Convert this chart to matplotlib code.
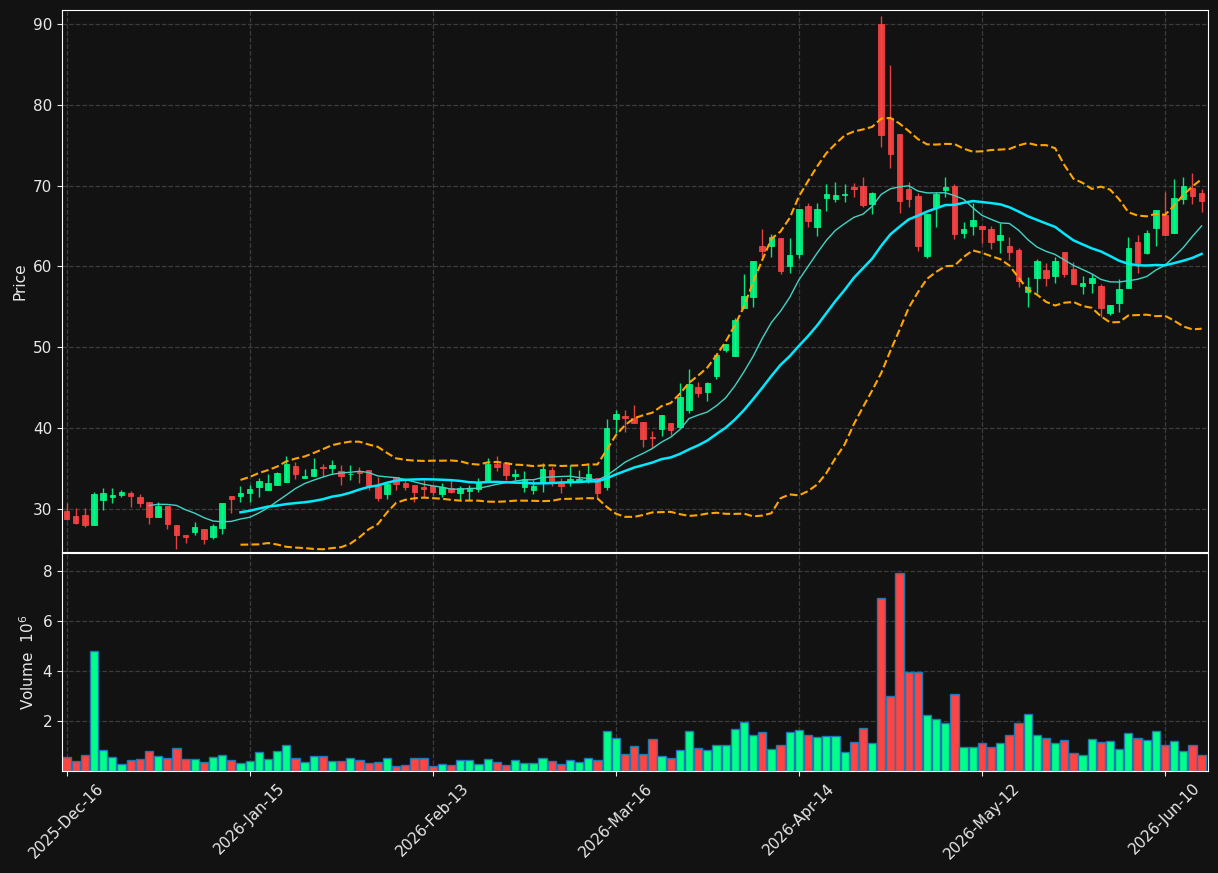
import matplotlib
matplotlib.use("Agg")
import matplotlib.pyplot as plt
from matplotlib.patches import Rectangle
import numpy as np
import pandas as pd

# ---------------------------------------------------------------------------
# data (one row per trading day)
# ---------------------------------------------------------------------------
opens = [29.75, 29.1, 29.3, 28.0, 31.1, 31.5, 31.8, 32.0, 31.5, 30.9,
         29.05, 30.4, 28.0, 26.8, 27.15, 27.5, 26.6, 27.65, 31.6, 31.6,
         32.0, 32.7, 32.35, 33.0, 33.3, 35.3, 33.84, 34.1, 35.2, 35.1,
         34.7, 34.3, 34.6, 34.8, 32.85, 31.9, 33.96, 33.25, 32.97, 32.7,
         32.85, 31.86, 32.56, 32.0, 32.23, 32.44, 33.5, 35.57, 35.65, 34.08,
         32.76, 32.35, 33.38, 34.8, 33.18, 33.43, 33.5, 33.5, 33.9, 32.76,
         41.13, 41.5, 41.26, 40.76, 38.9, 39.9, 40.64, 40.1, 42.25, 45.1,
         44.5, 46.5, 49.67, 48.97, 54.83, 56.27, 62.54, 62.57, 63.49, 60.1,
         61.55, 67.49, 64.93, 68.5, 68.35, 68.88, 69.84, 69.96, 67.73, 90.0,
         78.33, 76.4, 69.59, 68.72, 61.3, 67.33, 69.47, 69.96, 64.18, 65.01,
         65.0, 64.64, 63.28, 62.54, 62.04, 56.9, 58.62, 59.57, 58.87, 61.76,
         59.7, 57.62, 57.92, 57.59, 54.28, 55.45, 57.38, 63.0, 61.7, 64.8,
         66.37, 64.1, 68.32, 69.68, 69.13]
highs = [30.8, 30.1, 30.1, 32.1, 32.6, 32.6, 32.4, 32.2, 31.9, 30.9,
         30.9, 30.4, 28.0, 26.8, 28.4, 27.5, 28.1, 30.74, 31.6, 32.85,
         33.0, 33.8, 34.3, 34.6, 36.6, 35.8, 34.95, 36.3, 35.6, 36.1,
         35.4, 35.4, 35.2, 34.8, 34.0, 33.1, 33.96, 33.6, 32.97, 33.6,
         32.85, 33.2, 33.6, 32.85, 32.97, 33.9, 36.27, 36.56, 35.65, 34.9,
         34.7, 33.6, 35.65, 35.2, 33.8, 35.44, 34.8, 35.65, 33.9, 41.2,
         42.3, 42.3, 42.87, 40.76, 39.6, 41.63, 40.7, 45.55, 47.28, 45.75,
         45.75, 49.05, 50.4, 53.6, 59.07, 60.7, 64.6, 64.0, 63.49, 63.49,
         67.1, 67.9, 67.9, 70.2, 70.5, 70.2, 70.37, 71.0, 69.25, 91.0,
         84.9, 76.4, 70.5, 69.13, 66.5, 69.25, 71.04, 70.2, 65.46, 67.8,
         65.0, 65.0, 65.42, 63.6, 62.25, 58.74, 60.9, 60.4, 61.14, 61.76,
         60.6, 58.86, 59.07, 57.84, 55.24, 58.5, 63.6, 63.9, 64.5, 67.0,
         69.18, 70.8, 71.04, 71.6, 69.55]
lows = [28.6, 28.1, 27.8, 28.0, 29.9, 30.8, 31.5, 30.3, 30.3, 28.1,
        29.0, 27.5, 25.1, 25.8, 26.75, 25.75, 26.3, 26.9, 29.5, 30.9,
        30.9, 31.5, 32.35, 33.0, 33.3, 33.7, 33.84, 34.1, 34.0, 34.4,
        33.0, 33.6, 33.2, 32.35, 31.0, 31.3, 32.4, 32.35, 30.9, 31.5,
        31.7, 31.5, 32.0, 31.1, 31.1, 32.14, 33.38, 34.7, 33.6, 33.6,
        32.14, 31.86, 32.14, 32.85, 32.0, 32.85, 33.38, 33.18, 31.3, 32.35,
        39.37, 39.56, 40.6, 37.7, 37.6, 39.07, 39.15, 40.1, 41.9, 43.9,
        43.4, 46.05, 49.46, 48.97, 54.83, 55.0, 61.2, 61.2, 59.04, 59.24,
        61.0, 64.85, 63.78, 66.8, 68.0, 68.0, 68.64, 67.33, 66.5, 74.75,
        72.15, 66.58, 67.33, 61.96, 61.0, 64.93, 68.56, 63.37, 63.56, 63.9,
        62.95, 62.12, 61.63, 60.8, 57.5, 54.95, 56.7, 57.6, 57.9, 58.66,
        57.84, 56.56, 56.76, 53.79, 54.0, 54.4, 57.38, 59.24, 61.5, 62.54,
        63.9, 64.1, 67.73, 67.73, 66.7]
closes = [28.76, 28.3, 28.0, 31.9, 32.0, 31.8, 32.1, 31.65, 30.8, 29.05,
          30.4, 28.1, 26.8, 26.5, 27.8, 26.3, 27.9, 30.74, 31.24, 32.0,
          32.5, 33.5, 33.2, 34.45, 35.6, 34.3, 34.08, 34.95, 35.1, 35.4,
          34.1, 34.37, 34.5, 32.85, 31.4, 33.1, 33.13, 32.72, 32.1, 32.5,
          32.1, 32.76, 32.14, 32.56, 32.44, 33.25, 35.57, 35.23, 34.2, 34.4,
          33.67, 32.85, 34.9, 33.38, 32.85, 33.7, 33.7, 34.4, 31.94, 40.0,
          41.75, 41.3, 40.68, 38.7, 38.78, 41.63, 39.77, 43.86, 45.46, 44.35,
          45.55, 49.05, 50.4, 53.38, 56.35, 60.7, 61.92, 63.6, 59.48, 61.42,
          67.08, 65.6, 67.08, 68.97, 68.85, 69.0, 69.59, 67.6, 69.13, 76.27,
          73.92, 68.04, 68.35, 62.54, 66.5, 68.97, 69.84, 64.02, 64.64, 65.75,
          64.6, 63.07, 63.9, 61.83, 58.24, 57.4, 60.68, 58.62, 60.68, 59.04,
          57.84, 57.96, 58.62, 54.9, 55.24, 57.22, 62.25, 60.4, 64.1, 66.99,
          63.9, 68.44, 69.96, 68.72, 68.1]
# volume in millions of shares
volumes = [0.56, 0.40, 0.64, 4.77, 0.83, 0.56, 0.28, 0.45, 0.48, 0.79,
           0.60, 0.52, 0.91, 0.48, 0.48, 0.36, 0.56, 0.64, 0.44, 0.32,
           0.40, 0.75, 0.48, 0.79, 1.03, 0.52, 0.36, 0.60, 0.60, 0.40,
           0.40, 0.52, 0.44, 0.32, 0.36, 0.52, 0.20, 0.24, 0.52, 0.52,
           0.20, 0.28, 0.24, 0.44, 0.44, 0.28, 0.48, 0.36, 0.24, 0.44,
           0.32, 0.32, 0.52, 0.40, 0.28, 0.44, 0.36, 0.52, 0.44, 1.59,
           1.31, 0.68, 0.99, 0.68, 1.27, 0.60, 0.52, 0.83, 1.59, 0.91,
           0.83, 1.03, 1.03, 1.67, 1.95, 1.43, 1.55, 0.87, 1.03, 1.55,
           1.63, 1.43, 1.35, 1.39, 1.39, 0.75, 1.15, 1.71, 1.11, 6.91,
           2.98, 7.91, 3.97, 3.97, 2.22, 2.07, 1.91, 3.06, 0.94, 0.94,
           1.11, 0.94, 1.11, 1.43, 1.91, 2.26, 1.43, 1.31, 1.11, 1.23,
           0.71, 0.64, 1.27, 1.15, 1.19, 0.87, 1.51, 1.31, 1.23, 1.59,
           1.03, 1.19, 0.79, 1.03, 0.64]

tick_pos = [0, 20, 40, 60, 80, 100, 120]
tick_labels = ["2025-Dec-16", "2026-Jan-15", "2026-Feb-13", "2026-Mar-16",
               "2026-Apr-14", "2026-May-12", "2026-Jun-10"]

# ---------------------------------------------------------------------------
# style
# ---------------------------------------------------------------------------
BG = "#121212"
UP = "#00ff88"
DOWN = "#ff4444"
GRID = "#3c3c3c"
TXT = "#e8e8e8"

df = pd.DataFrame({"o": opens, "h": highs, "l": lows, "c": closes, "v": volumes})
x = np.arange(len(df))
ma10 = df["c"].rolling(10).mean()
ma20 = df["c"].rolling(20).mean()
sd20 = df["c"].rolling(20).std(ddof=0)
upper = ma20 + 2 * sd20
lower = ma20 - 2 * sd20

fig = plt.figure(figsize=(12.18, 8.73), dpi=100, facecolor=BG)
ax = fig.add_axes([0.0509, 0.3677, 0.9409, 0.6208])
axv = fig.add_axes([0.0509, 0.1168, 0.9409, 0.2498], sharex=ax)

for a in (ax, axv):
    a.set_facecolor(BG)
    for s in a.spines.values():
        s.set_color("white")
    a.tick_params(colors=TXT, labelsize=11)
    a.grid(True, color=GRID, linestyle="--", linewidth=0.9)
    a.set_axisbelow(True)

# candles
for i in x:
    o, h, l, c = df.loc[i, ["o", "h", "l", "c"]]
    col = UP if c >= o else DOWN
    ax.vlines(i, l, h, color=col, linewidth=1, alpha=0.9, zorder=2)
    ax.add_patch(Rectangle((i - 0.3, min(o, c)), 0.6, max(abs(c - o), 0.05),
                           facecolor=col, edgecolor=col, linewidth=0.6,
                           alpha=0.9, zorder=3))

ax.plot(x, ma10, color="#3fd4c4", linewidth=1.0, zorder=4)
ax.plot(x, ma20, color="#00eaff", linewidth=1.8, zorder=4)
ax.plot(x, upper, color="#ffa500", linestyle="--", linewidth=1.5, zorder=4)
ax.plot(x, lower, color="#ffa500", linestyle="--", linewidth=1.5, zorder=4)

ax.set_ylim(24.7, 91.7)
ax.set_yticks([30, 40, 50, 60, 70, 80, 90])
ax.set_ylabel("Price", color=TXT, fontsize=11)
ax.tick_params(labelbottom=False)

# volume
vcols = [UP if c >= o else DOWN for o, c in zip(opens, closes)]
axv.bar(x, df["v"], width=0.9, color=vcols, edgecolor="#1f77b4", linewidth=1, zorder=2)
axv.set_ylim(0, 8.7)
axv.set_yticks([2, 4, 6, 8])
axv.set_ylabel("Volume  $10^6$", color=TXT, fontsize=11)

axv.set_xlim(-0.5, 124.7)
axv.set_xticks(tick_pos)
axv.set_xticklabels(tick_labels, rotation=45, ha="center")

fig.savefig("out.png", dpi=100, facecolor=BG)
